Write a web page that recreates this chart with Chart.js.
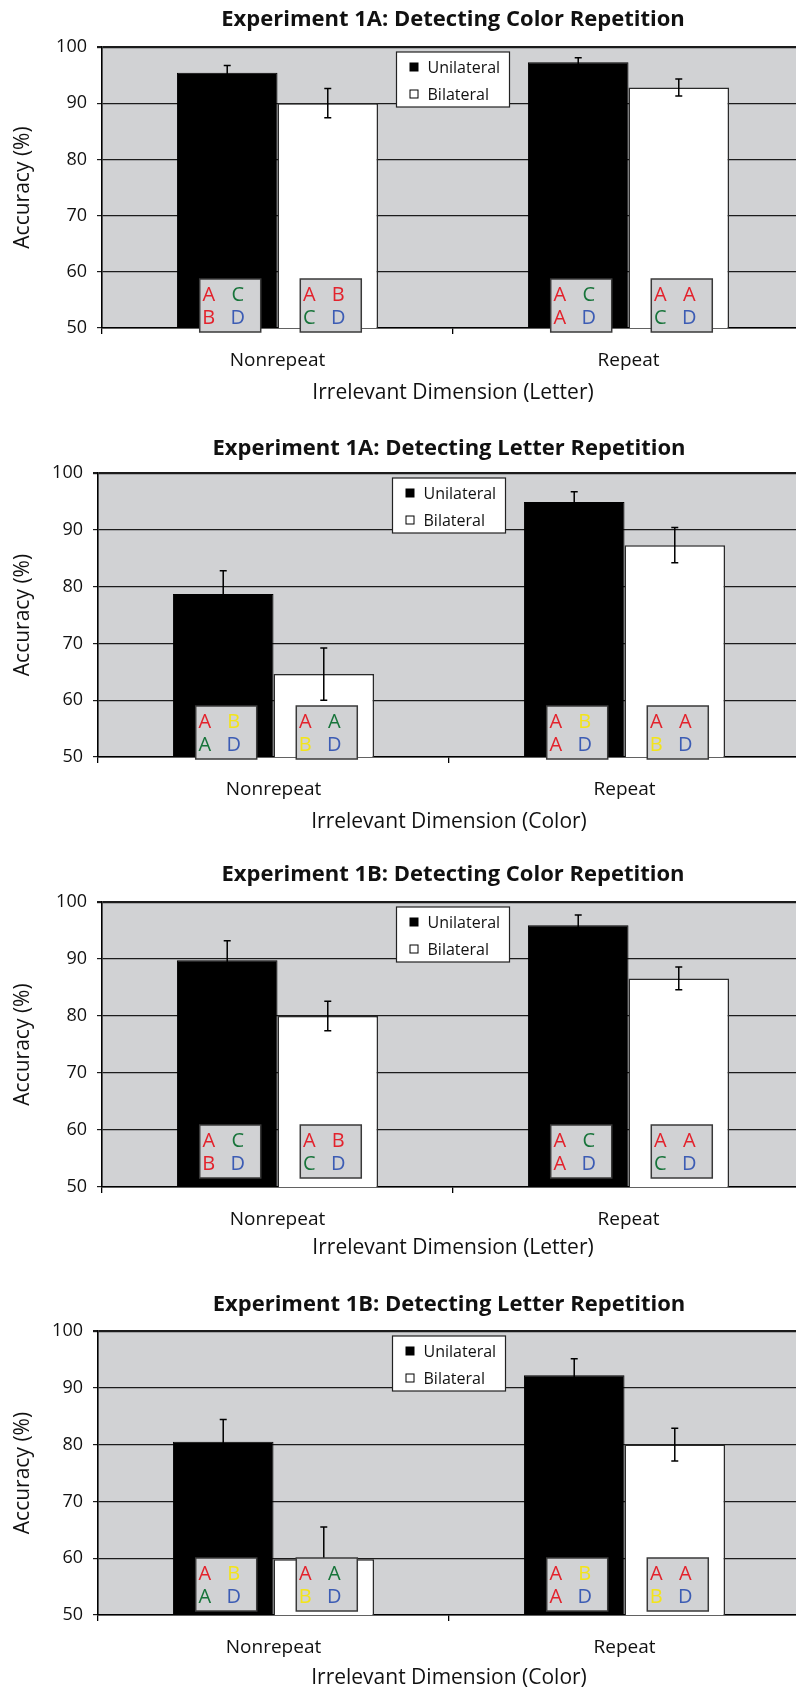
<!DOCTYPE html>
<html>
<head>
<meta charset="utf-8">
<script src="https://cdn.jsdelivr.net/npm/chart.js@4.4.1/dist/chart.umd.min.js"></script>
<style>
  html, body { margin: 0; padding: 0; background: #fff; width: 796px; height: 1688px; overflow: hidden; }
  .panel { position: absolute; left: 0; width: 810px; height: 407px; }
</style>
</head>
<body>
<div class="panel" style="top:0px"><canvas id="c1" width="810" height="407"></canvas></div>
<div class="panel" style="top:429px"><canvas id="c2" width="810" height="407"></canvas></div>
<div class="panel" style="top:855px"><canvas id="c3" width="810" height="407"></canvas></div>
<div class="panel" style="top:1285px"><canvas id="c4" width="810" height="407"></canvas></div>
<script>
const categories = ["Nonrepeat", "Repeat"];
const seriesNames = ["Unilateral", "Bilateral"];
const yTicks = [50, 60, 70, 80, 90, 100];

const chartTitles = [
  "Experiment 1A: Detecting Color Repetition",
  "Experiment 1A: Detecting Letter Repetition",
  "Experiment 1B: Detecting Color Repetition",
  "Experiment 1B: Detecting Letter Repetition"
];
const xTitles = [
  "Irrelevant Dimension (Letter)",
  "Irrelevant Dimension (Color)",
  "Irrelevant Dimension (Letter)",
  "Irrelevant Dimension (Color)"
];

// accuracy (%) and error bars, [Nonrepeat, Repeat]
const exp1aColorUni = [95.4, 97.3];
const exp1aColorBi = [90.0, 92.8];
const exp1aColorUniErr = [1.3, 0.8];
const exp1aColorBiErr = [2.6, 1.5];

const exp1aLetterUni = [78.7, 94.9];
const exp1aLetterBi = [64.6, 87.3];
const exp1aLetterUniErr = [4.1, 1.8];
const exp1aLetterBiErr = [4.6, 3.1];

const exp1bColorUni = [89.8, 95.9];
const exp1bColorBi = [80.0, 86.6];
const exp1bColorUniErr = [3.4, 1.8];
const exp1bColorBiErr = [2.6, 2.0];

const exp1bLetterUni = [80.5, 92.2];
const exp1bLetterBi = [59.8, 80.0];
const exp1bLetterUniErr = [3.9, 2.9];
const exp1bLetterBiErr = [5.7, 2.9];

// example displays: [uni-nonrepeat, bi-nonrepeat, uni-repeat, bi-repeat], letters read row by row
const colorTaskLetters = [["A","C","B","D"], ["A","B","C","D"], ["A","C","A","D"], ["A","A","C","D"]];
const colorTaskInks = [["red","green","red","blue"], ["red","red","green","blue"], ["red","green","red","blue"], ["red","red","green","blue"]];
const letterTaskLetters = [["A","B","A","D"], ["A","A","B","D"], ["A","B","A","D"], ["A","A","B","D"]];
const letterTaskInks = [["red","yellow","green","blue"], ["red","green","yellow","blue"], ["red","yellow","red","blue"], ["red","red","yellow","blue"]];

const inkColors = { red: "#e3222c", green: "#17743a", blue: "#3c5cb4", yellow: "#f3e41a" };
const FONT = "'Open Sans', 'Noto Sans', sans-serif";
const PLOT_BG = "#d1d2d4";
const H = 407;

const overlayPlugin = {
  id: "overlay",
  beforeDraw(chart) {
    const a = chart.chartArea;
    const ctx = chart.ctx;
    ctx.save();
    ctx.fillStyle = PLOT_BG;
    ctx.fillRect(a.left, a.top, a.right - a.left, a.bottom - a.top);
    ctx.restore();
  },
  afterDatasetsDraw(chart) {
    const ctx = chart.ctx;
    const y = chart.scales.y;
    const a = chart.chartArea;
    const extra = chart.options.plugins.overlay;
    ctx.save();

    // error bars
    ctx.strokeStyle = "#000";
    ctx.lineWidth = 1.5;
    chart.data.datasets.forEach((ds, i) => {
      chart.getDatasetMeta(i).data.forEach((bar, j) => {
        const top = y.getPixelForValue(ds.data[j] + ds.errors[j]);
        const bot = y.getPixelForValue(ds.data[j] - ds.errors[j]);
        ctx.beginPath();
        ctx.moveTo(bar.x, top); ctx.lineTo(bar.x, bot);
        ctx.moveTo(bar.x - 3.5, top); ctx.lineTo(bar.x + 3.5, top);
        ctx.moveTo(bar.x - 3.5, bot); ctx.lineTo(bar.x + 3.5, bot);
        ctx.stroke();
      });
    });

    // example letter displays
    const base = y.getPixelForValue(yTicks[0]);
    for (let j = 0; j < chart.data.labels.length; j++) {
      chart.data.datasets.forEach((ds, i) => {
        const bar = chart.getDatasetMeta(i).data[j];
        const idx = j * 2 + i;
        const letters = extra.letters[idx];
        const inks = extra.inks[idx];
        const w = 61, h = 53;
        const left = bar.x + 3 - w / 2;
        const top = base - extra.lift - h + 2;
        ctx.fillStyle = PLOT_BG;
        ctx.fillRect(left, top, w, h);
        ctx.strokeStyle = "#3a3a3a";
        ctx.lineWidth = 1.5;
        ctx.strokeRect(left, top, w, h);
        ctx.font = "20px " + FONT;
        ctx.textAlign = "center";
        ctx.textBaseline = "middle";
        for (let n = 0; n < 4; n++) {
          const cx = left + (n % 2 === 0 ? 9 : 38);
          const cy = top + (n < 2 ? 15 : 38);
          ctx.fillStyle = inkColors[inks[n]];
          ctx.fillText(letters[n], cx, cy + 1);
        }
      });
    }

    // legend box
    const lw = 113, lh = 55;
    const lx = (a.left + a.right) / 2 - lw / 2;
    const ly = a.top + 5;
    ctx.fillStyle = "#fff";
    ctx.fillRect(lx, ly, lw, lh);
    ctx.strokeStyle = "#222";
    ctx.lineWidth = 1.2;
    ctx.strokeRect(lx, ly, lw, lh);
    ctx.font = "16px " + FONT;
    ctx.textAlign = "left";
    ctx.textBaseline = "middle";
    chart.data.datasets.forEach((ds, i) => {
      const cy = ly + 15 + i * 27;
      ctx.fillStyle = ds.backgroundColor;
      ctx.fillRect(lx + 13.5, cy - 4, 8, 8);
      ctx.strokeStyle = "#000";
      ctx.lineWidth = 1;
      ctx.strokeRect(lx + 13.5, cy - 4, 8, 8);
      ctx.fillStyle = "#111";
      ctx.fillText(ds.label, lx + 31, cy + 1);
    });
    ctx.restore();
  }
};

function makeChart(id, title, xTitle, uni, bi, uniErr, biErr, letters, inks, geo) {
  new Chart(document.getElementById(id), {
    type: "bar",
    data: {
      labels: categories,
      datasets: [
        { label: seriesNames[0], data: uni, errors: uniErr, backgroundColor: "#000", borderColor: "#000", borderWidth: 1 },
        { label: seriesNames[1], data: bi, errors: biErr, backgroundColor: "#fff", borderColor: "#2a2a2a", borderWidth: 1.5 }
      ]
    },
    options: {
      responsive: false,
      animation: false,
      layout: { padding: { left: 0, right: 810 - geo.left - 702, top: 0, bottom: 0 } },
      datasets: { bar: { categoryPercentage: 0.573, barPercentage: 1.0 } },
      plugins: {
        legend: { display: false },
        tooltip: { enabled: false },
        title: {
          display: true, text: title, color: "#111", fullSize: false,
          font: { family: FONT, size: 22, weight: "bold" },
          padding: { top: 6.8, bottom: geo.plotTop - 33.2 }
        },
        overlay: { letters: letters, inks: inks, lift: geo.lift }
      },
      scales: {
        x: {
          afterFit: (s) => { s.height = H - geo.plotBottom; },
          grid: { offset: true, drawOnChartArea: false, drawTicks: true, tickLength: 6, color: "#000", lineWidth: 1.3 },
          border: { display: true, color: "#000", width: 1.6 },
          ticks: { color: "#111", padding: 15, font: { family: FONT, size: 19 } },
          title: { display: true, text: xTitle, color: "#111", font: { family: FONT, size: 21 }, padding: { top: 0, bottom: 1 } }
        },
        y: {
          min: yTicks[0], max: yTicks[yTicks.length - 1],
          afterFit: (s) => { s.width = geo.left; },
          ticks: { stepSize: yTicks[1] - yTicks[0], color: "#111", padding: 10, font: { family: FONT, size: 18 } },
          grid: {
            color: "#1c1c1c", tickLength: 5,
            lineWidth: (c) => (c.tick && c.tick.value === yTicks[yTicks.length - 1] ? 2.2 : 1.2)
          },
          border: { display: true, color: "#000", width: 1.6 },
          title: { display: true, text: "Accuracy (%)", color: "#111", font: { family: FONT, size: 21 }, padding: { top: 10, bottom: 0 } }
        }
      }
    },
    plugins: [overlayPlugin]
  });
}

makeChart("c1", chartTitles[0], xTitles[0], exp1aColorUni, exp1aColorBi, exp1aColorUniErr, exp1aColorBiErr,
  colorTaskLetters, colorTaskInks, { left: 102, plotTop: 47, plotBottom: 328, lift: -2 });
makeChart("c2", chartTitles[1], xTitles[1], exp1aLetterUni, exp1aLetterBi, exp1aLetterUniErr, exp1aLetterBiErr,
  letterTaskLetters, letterTaskInks, { left: 98, plotTop: 44, plotBottom: 328, lift: 0 });
makeChart("c3", chartTitles[2], xTitles[2], exp1bColorUni, exp1bColorBi, exp1bColorUniErr, exp1bColorBiErr,
  colorTaskLetters, colorTaskInks, { left: 102, plotTop: 47, plotBottom: 332, lift: 11 });
makeChart("c4", chartTitles[3], xTitles[3], exp1bLetterUni, exp1bLetterBi, exp1bLetterUniErr, exp1bLetterBiErr,
  letterTaskLetters, letterTaskInks, { left: 98, plotTop: 46, plotBottom: 330, lift: 6 });
</script>
</body>
</html>
